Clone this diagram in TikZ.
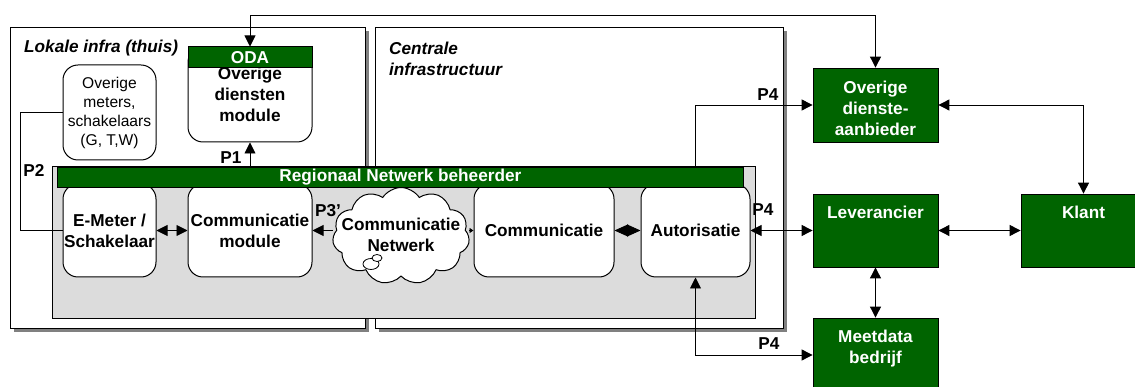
\documentclass[tikz,border=0pt]{standalone}
\usepackage{fontspec}
\setmainfont{Liberation Sans}
\usetikzlibrary{arrows.meta,shapes.symbols}
\definecolor{rnbgreen}{RGB}{0,100,0}
\definecolor{panelgray}{RGB}{220,220,220}
\definecolor{shadowgray}{RGB}{128,128,128}
\begin{document}
\begin{tikzpicture}[x=1pt,y=-1pt,
  >={Triangle[length=11pt,width=11pt]},
  conn/.style={line width=0.9pt},
  area/.style={draw, line width=1.1pt, fill=white, inner sep=0pt, anchor=north west},
  areashadow/.style={fill=shadowgray},
  module/.style={draw, line width=1pt, fill=white, rounded corners=15pt, inner sep=0pt,
    align=center, font=\fontsize{17.2}{21}\selectfont\bfseries},
  party/.style={draw=black, line width=0.8pt, fill=rnbgreen, inner sep=0pt,
    minimum width=125pt},
  wlabel/.style={text=white, font=\fontsize{17.2}{21}\selectfont\bfseries, align=center, inner sep=0pt},
  plabel/.style={font=\fontsize{17.2}{21}\selectfont\bfseries, inner sep=0pt, align=center},
  title/.style={font=\fontsize{17.2}{21}\selectfont\bfseries\itshape, inner sep=0pt, align=left},
]
\useasboundingbox (0,0) rectangle (1135,387);
\fill[white] (0,0) rectangle (1135,387);

% outer domains with their shadows
\fill[areashadow] (14,31) rectangle (369,332);
\fill[areashadow] (379,31) rectangle (787,332);
\node[area, minimum width=355pt, minimum height=301pt] (lokaal) at (10,27) {};
\node[area, minimum width=408pt, minimum height=301pt] (centraal) at (375,27) {};
\node[title, anchor=west] (lokaaltitel) at (24,48) {Lokale infra (thuis)};
\node[title, anchor=north west] (centraaltitel) at (389,42) {Centrale\\infrastructuur};

% home side modules
\node[module, font=\fontsize{15.6}{19}\selectfont, minimum width=93pt, minimum height=95pt]
  (meters) at (109.5,112.5) {Overige\\meters,\\schakelaars\\(G, T,W)};
\node[module, minimum width=124pt, minimum height=95pt] (oda) at (250,94.5) {Overige\\diensten\\module};
\node[draw, line width=0.8pt, fill=rnbgreen, anchor=north, minimum width=124pt, minimum height=21pt,
  inner sep=0pt, text=white, font=\fontsize{17.2}{21}\selectfont\bfseries] (odakop) at (oda.north) {ODA};

% regional grid operator panel
\node[draw, line width=1pt, fill=panelgray, anchor=north west, minimum width=703pt, minimum height=152pt,
  inner sep=0pt] (rnb) at (52,166) {};
\node[module, minimum width=93pt, minimum height=93pt] (emeter) at (109.5,230.5) {E-Meter /\\Schakelaar};
\node[module, minimum width=124pt, minimum height=93pt] (commod) at (250,230.5) {Communicatie\\module};
\node[module, minimum width=140pt, minimum height=93pt] (comm) at (544,230.5) {Communicatie};
\node[module, minimum width=109pt, minimum height=93pt] (auth) at (695.5,230.5) {Autorisatie};

\node[cloud, cloud puffs=11, cloud puff arc=115, cloud ignores aspect, minimum width=137pt,
  minimum height=97pt, draw, fill=white, line width=1pt, inner sep=0pt] (net) at (401,236) {};
\draw[line width=0.8pt, fill=white] (371,264) ellipse [x radius=8, y radius=5.5];
\draw[line width=0.8pt, fill=white] (377,258) ellipse [x radius=5, y radius=3.5];
\node[plabel] (nettekst) at (401,235) {Communicatie\\Netwerk};

\node[draw, line width=0.8pt, fill=rnbgreen, anchor=north west, minimum width=686pt, minimum height=20pt,
  inner sep=0pt, text=white, font=\fontsize{17.2}{21}\selectfont\bfseries] (rnbbar) at (57,167)
  {Regionaal Netwerk beheerder};

% market parties
\node[party, minimum height=74pt] (oda2) at (875.5,105) {};
\node[wlabel] (oda2tekst) at (875.5,108) {Overige\\dienste-\\aanbieder};
\node[party, minimum height=73pt] (lev) at (875.5,230.5) {};
\node[wlabel] (levtekst) at (875.5,212) {Leverancier};
\node[party, minimum height=73pt] (klant) at (1083.5,230.5) {};
\node[wlabel] (klanttekst) at (1083.5,212) {Klant};
\node[party, minimum height=74pt] (mdb) at (875.5,355) {};
\node[wlabel] (mdbtekst) at (875.5,349) {Meetdata\\bedrijf};

% connectors
\coordinate (topy) at (0,15);
\draw[conn,<->] (odakop.north) -- (odakop.north |- topy) -| (oda2.north);
\draw[conn,->] (oda.south |- rnb.north) -- (oda.south);
\node[plabel] (p1) at (231,158) {P1};
\draw[conn] (meters.west) -- ++(-42,0) |- (emeter.west);
\node[plabel] (p2) at (34,170) {P2};
\draw[conn,<->] (emeter.east) -- (commod.west);
\draw[conn,->] (commod.east -| net.west) -- (commod.east);
\node[plabel] (p3) at (328,211) {P3’};
\draw[conn,-{Triangle[length=4pt,width=5pt]}] (comm.west -| net.east) -- (comm.west);
\draw[conn,{Triangle[length=13.5pt,width=12pt]}-{Triangle[length=13.5pt,width=12pt]}] (comm.east) -- (auth.west);
\draw[conn,<->] (auth.east) -- (lev.west);
\node[plabel] (p4b) at (763,210) {P4};
\draw[conn,->] (auth.north |- rnb.north) |- (oda2.west);
\node[plabel] (p4a) at (768,95) {P4};
\draw[conn,<->] (auth.south) |- (mdb.west);
\node[plabel] (p4c) at (769,344) {P4};
\draw[conn,<->] (oda2.east) -| (klant.north);
\draw[conn,<->] (lev.east) -- (klant.west);
\draw[conn,<->] (lev.south) -- (mdb.north);
\end{tikzpicture}
\end{document}
